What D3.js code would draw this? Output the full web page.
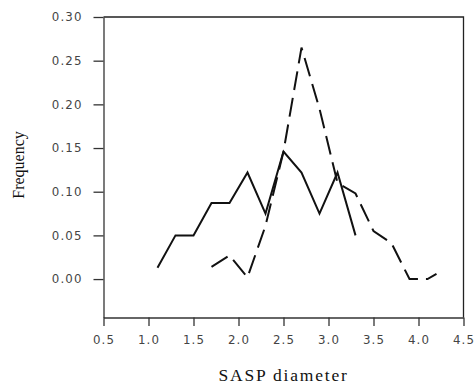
<!DOCTYPE html>
<html>
<head>
<meta charset="utf-8">
<script src="https://cdn.jsdelivr.net/npm/d3@7"></script>
<style>
  html, body { margin: 0; padding: 0; background: #fff; }
  svg { display: block; }
  .tick text { font-family: "DejaVu Sans", sans-serif; font-size: 11.8px; fill: #444; letter-spacing: 1.1px; }
  .ttl { font-family: "Liberation Serif", "Times New Roman", serif; fill: #111; }
</style>
</head>
<body>
<svg id="chart"></svg>
<script>
// (Int, Int) -> String
const translate = (x, y) => "translate(" + x + "," + y + ")"

// solid series
const solidX = [1.1, 1.3, 1.5, 1.7, 1.9, 2.1, 2.3, 2.5, 2.7, 2.9, 3.1, 3.3]
const solidY = [0.013, 0.050, 0.050, 0.087, 0.087, 0.122, 0.075, 0.146, 0.122, 0.075, 0.122, 0.050]

// dashed series
const dashedX = [1.7, 1.9, 2.1, 2.3, 2.5, 2.7, 2.9, 3.1, 3.3, 3.5, 3.7, 3.9, 4.1, 4.2]
const dashedY = [0.014, 0.027, 0.002, 0.061, 0.146, 0.265, 0.195, 0.110, 0.098, 0.055, 0.041, 0.000, 0.000, 0.006]

const xTicks = [0.5, 1.0, 1.5, 2.0, 2.5, 3.0, 3.5, 4.0, 4.5]
const yTicks = [0.00, 0.05, 0.10, 0.15, 0.20, 0.25, 0.30]

const width  = 475
const height = 386
const m = { left: 103.5, right: 463.5, top: 17, bottom: 317.5 }

const svg = d3.select("#chart")
    .attr("width", width)
    .attr("height", height)

const x = d3.scaleLinear().domain([0.5, 4.5]).range([m.left, m.right])
const y = d3.scaleLinear().domain([-0.044, 0.30]).range([m.bottom, m.top])

// frame: top and right borders
svg.append("path")
    .attr("d", "M" + m.left + "," + m.top + "H" + m.right + "V" + m.bottom)
    .attr("fill", "none")
    .attr("stroke", "#222")
    .attr("stroke-width", 1.3)

const yAxis = svg.append("g")
    .attr("transform", translate(m.left, 0))
    .call(d3.axisLeft(y).tickValues(yTicks).tickFormat(d3.format(".2f")).tickSize(10).tickSizeOuter(0).tickPadding(11))
yAxis.selectAll("line, path").attr("stroke", "#333").attr("stroke-width", 1.3)

const xAxis = svg.append("g")
    .attr("transform", translate(0, m.bottom))
    .call(d3.axisBottom(x).tickValues(xTicks).tickFormat(d3.format(".1f")).tickSize(8.5).tickSizeOuter(0).tickPadding(10))
xAxis.selectAll("line, path").attr("stroke", "#333").attr("stroke-width", 1.3)

const line = d3.line()
    .x((d) => x(d[0]))
    .y((d) => y(d[1]))

svg.append("path")
    .datum(d3.zip(solidX, solidY))
    .attr("d", line)
    .attr("fill", "none")
    .attr("stroke", "#111")
    .attr("stroke-width", 2)

svg.append("path")
    .datum(d3.zip(dashedX, dashedY))
    .attr("d", line)
    .attr("fill", "none")
    .attr("stroke", "#111")
    .attr("stroke-width", 2)
    .attr("stroke-dasharray", "19,8")

svg.append("text")
    .attr("class", "ttl")
    .attr("x", (m.left + m.right) / 2)
    .attr("y", 381)
    .attr("text-anchor", "middle")
    .style("font-size", "17.5px")
    .style("letter-spacing", "1.8px")
    .text("SASP diameter")

svg.append("text")
    .attr("class", "ttl")
    .attr("transform", translate(24, 165) + " rotate(-90)")
    .attr("text-anchor", "middle")
    .style("font-size", "16px")
    .text("Frequency")
</script>
</body>
</html>
